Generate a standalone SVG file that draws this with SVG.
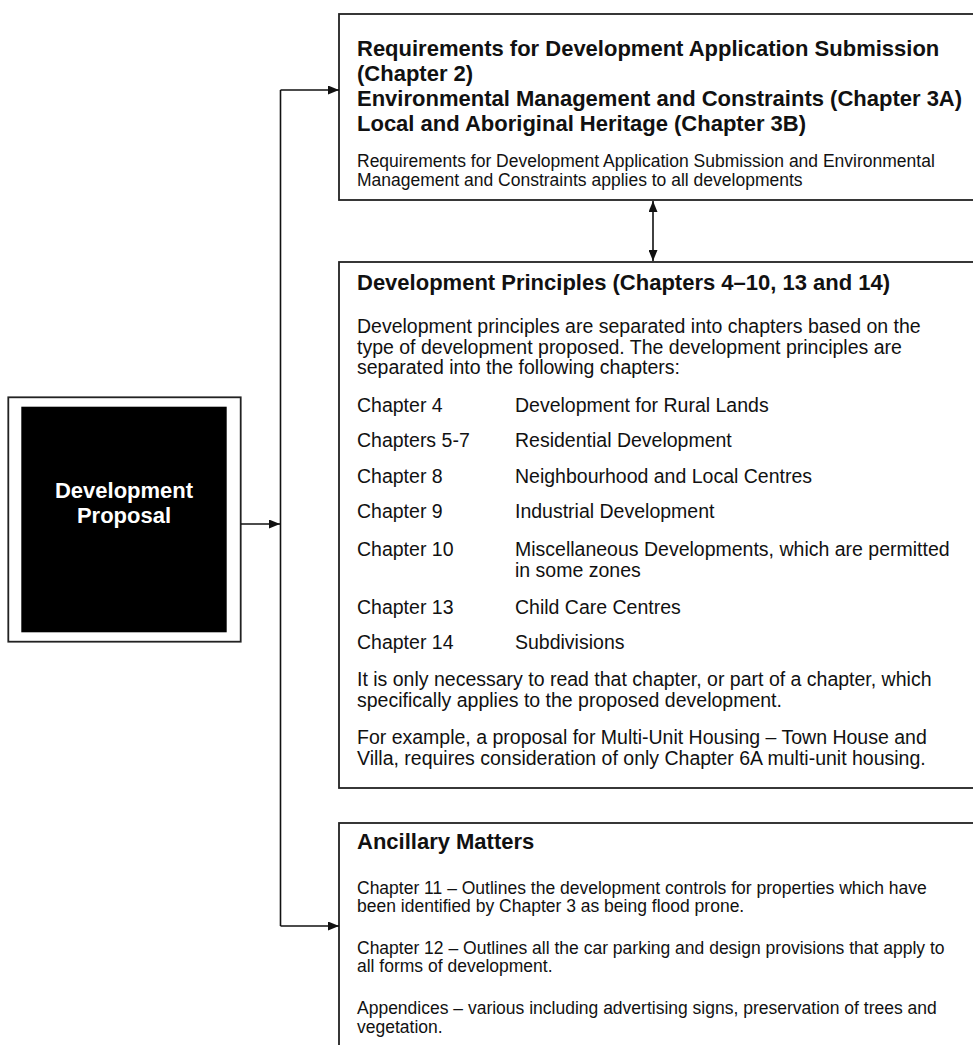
<svg xmlns="http://www.w3.org/2000/svg" width="973" height="1045" viewBox="0 0 973 1045">
<defs>
<marker id="ah" markerUnits="userSpaceOnUse" markerWidth="11" markerHeight="9" refX="11" refY="4.5" orient="auto-start-reverse">
<path d="M0,0 L11,4.5 L0,9 z" fill="#111"/>
</marker>
<style>
.box{fill:#fff;stroke:#222;stroke-width:1.8}
.hd{font-family:"Liberation Sans",Arial,sans-serif;font-weight:bold;font-size:22px;fill:#111}
.sm{font-family:"Liberation Sans",Arial,sans-serif;font-size:17.5px;fill:#111}
.md{font-family:"Liberation Sans",Arial,sans-serif;font-size:19.5px;fill:#111}
.wt{font-family:"Liberation Sans",Arial,sans-serif;font-weight:bold;font-size:22px;fill:#fff;text-anchor:middle}
.cn{fill:none;stroke:#111;stroke-width:1.6}
</style>
</defs>
<rect width="973" height="1045" fill="#fff"/>

<g id="development-proposal">
<rect class="box" x="8.3" y="397.3" width="232.4" height="244.4"/>
<rect x="21.3" y="406.7" width="205.4" height="225.6" fill="#000"/>
<text class="wt" x="124" y="498">Development<tspan x="124" y="523">Proposal</tspan></text>
</g>

<g id="requirements">
<rect class="box" x="339" y="14" width="650" height="186"/>
<text class="hd" x="357" y="56">Requirements for Development Application Submission<tspan x="357" y="81">(Chapter 2)</tspan><tspan x="357" y="106">Environmental Management and Constraints (Chapter 3A)</tspan><tspan x="357" y="131">Local and Aboriginal Heritage (Chapter 3B)</tspan></text>
<text class="sm" x="357" y="167">Requirements for Development Application Submission and Environmental<tspan x="357" y="185.5">Management and Constraints applies to all developments</tspan></text>
</g>

<g id="development-principles">
<rect class="box" x="339" y="262" width="650" height="526"/>
<text class="hd" x="357" y="290">Development Principles (Chapters 4–10, 13 and 14)</text>
<text class="md" x="357" y="333">Development principles are separated into chapters based on the<tspan x="357" y="353.5">type of development proposed. The development principles are</tspan><tspan x="357" y="374">separated into the following chapters:</tspan></text>
<text class="md" x="357" y="412">Chapter 4</text>
<text class="md" x="515" y="412">Development for Rural Lands</text>
<text class="md" x="357" y="447">Chapters 5-7</text>
<text class="md" x="515" y="447">Residential Development</text>
<text class="md" x="357" y="483">Chapter 8</text>
<text class="md" x="515" y="483">Neighbourhood and Local Centres</text>
<text class="md" x="357" y="518">Chapter 9</text>
<text class="md" x="515" y="518">Industrial Development</text>
<text class="md" x="357" y="556">Chapter 10</text>
<text class="md" x="515" y="556">Miscellaneous Developments, which are permitted<tspan x="515" y="577">in some zones</tspan></text>
<text class="md" x="357" y="614">Chapter 13</text>
<text class="md" x="515" y="614">Child Care Centres</text>
<text class="md" x="357" y="649">Chapter 14</text>
<text class="md" x="515" y="649">Subdivisions</text>
<text class="md" x="357" y="686">It is only necessary to read that chapter, or part of a chapter, which<tspan x="357" y="707">specifically applies to the proposed development.</tspan></text>
<text class="md" x="357" y="744">For example, a proposal for Multi-Unit Housing – Town House and<tspan x="357" y="765">Villa, requires consideration of only Chapter 6A multi-unit housing.</tspan></text>
</g>

<g id="ancillary-matters">
<rect class="box" x="339" y="823" width="650" height="240"/>
<text class="hd" x="357" y="849">Ancillary Matters</text>
<text class="sm" x="357" y="894">Chapter 11 – Outlines the development controls for properties which have<tspan x="357" y="912">been identified by Chapter 3 as being flood prone.</tspan></text>
<text class="sm" x="357" y="954">Chapter 12 – Outlines all the car parking and design provisions that apply to<tspan x="357" y="972">all forms of development.</tspan></text>
<text class="sm" x="357" y="1014">Appendices – various including advertising signs, preservation of trees and<tspan x="357" y="1033">vegetation.</tspan></text>
</g>

<g id="connectors">
<path class="cn" d="M241,524 H280" marker-end="url(#ah)"/>
<path class="cn" d="M280.5,90 V926"/>
<path class="cn" d="M280.5,90 H339" marker-end="url(#ah)"/>
<path class="cn" d="M280.5,926 H339" marker-end="url(#ah)"/>
<path class="cn" d="M653,201 V261" marker-start="url(#ah)" marker-end="url(#ah)"/>
</g>
</svg>
